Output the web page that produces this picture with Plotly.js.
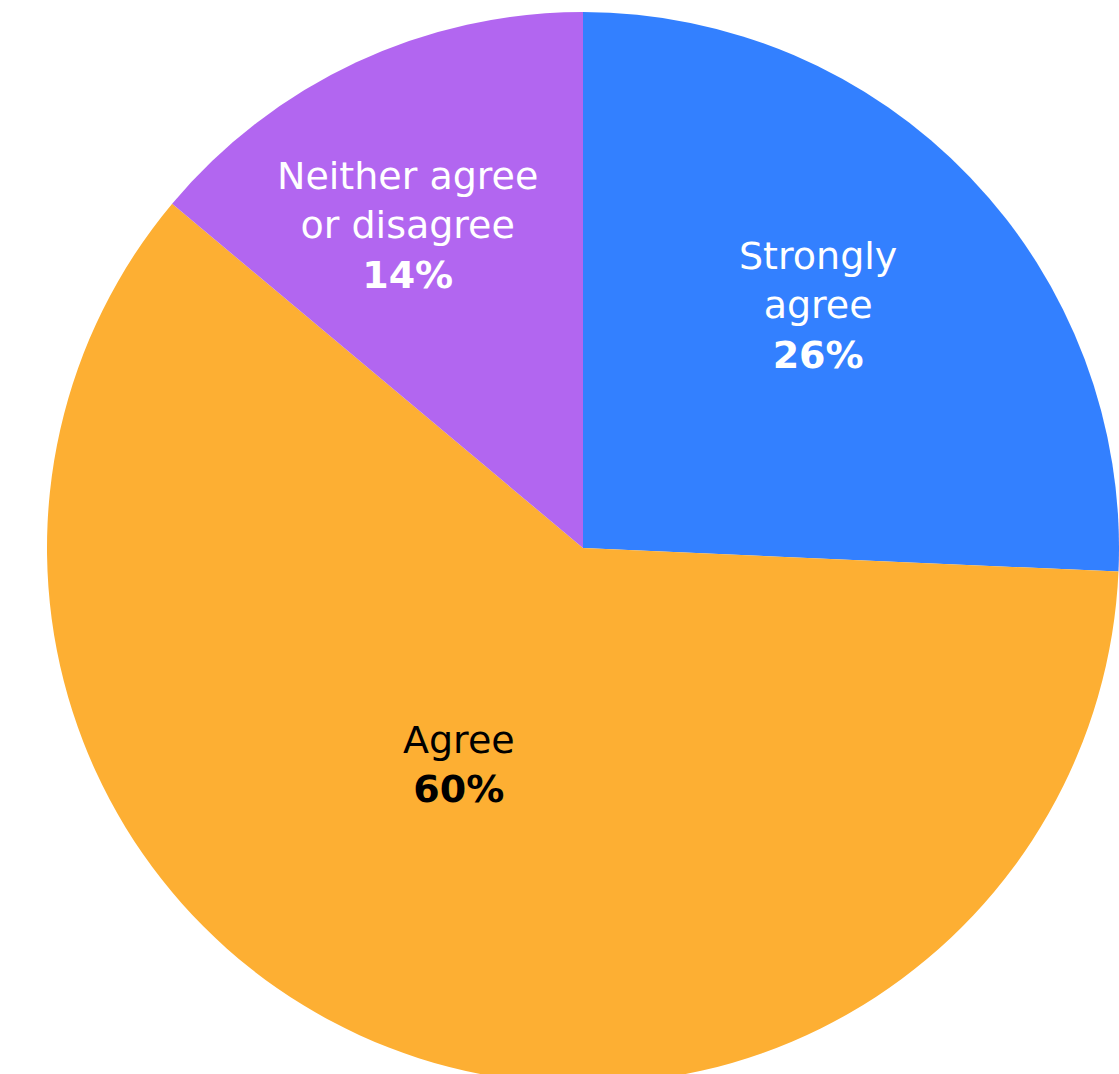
<!DOCTYPE html>
<html>
<head>
<meta charset="utf-8">
<script src="https://cdn.plot.ly/plotly-3.0.1.min.js"></script>
<style>
html, body { margin: 0; padding: 0; overflow: hidden; background: #ffffff; }
#chart { width: 1119px; height: 1084px; }
</style>
</head>
<body>
<div id="chart"></div>
<script>
const categories = ["Strongly agree", "Agree", "Neither agree or disagree"];
const displayLabels = ["Strongly<br>agree", "Agree", "Neither agree<br>or disagree"];
const shares = [25.7, 60.4, 13.9];
const sliceColors = ["#3380FF", "#FDAF33", "#B266F0"];
const labelColors = ["#ffffff", "#000000", "#ffffff"];
// label anchor positions inside each slice (paper fractions)
const labelX = [0.719, 0.384, 0.336];
const labelY = [0.726, 0.298, 0.801];

const total = shares.reduce((a, b) => a + b, 0);

const trace = {
  type: "pie",
  labels: categories,
  values: shares,
  sort: false,
  direction: "clockwise",
  rotation: 0,
  marker: { colors: sliceColors, line: { width: 0 } },
  textinfo: "none",
  hoverinfo: "none",
  showlegend: false
};

const annotations = categories.map((c, i) => ({
  xref: "paper", yref: "paper",
  x: labelX[i], y: labelY[i],
  xanchor: "center", yanchor: "middle",
  showarrow: false,
  align: "center",
  text: displayLabels[i] + "<br><b>" + Math.round(shares[i] / total * 100) + "%</b>",
  font: { family: "'DejaVu Sans', sans-serif", size: 38, color: labelColors[i] }
}));

const layout = {
  width: 1119,
  height: 1084,
  margin: { l: 47, r: 0, t: 12, b: 0, pad: 0 },
  paper_bgcolor: "#ffffff",
  showlegend: false,
  annotations: annotations
};

Plotly.newPlot("chart", [trace], layout, { displayModeBar: false, staticPlot: true });
</script>
</body>
</html>
